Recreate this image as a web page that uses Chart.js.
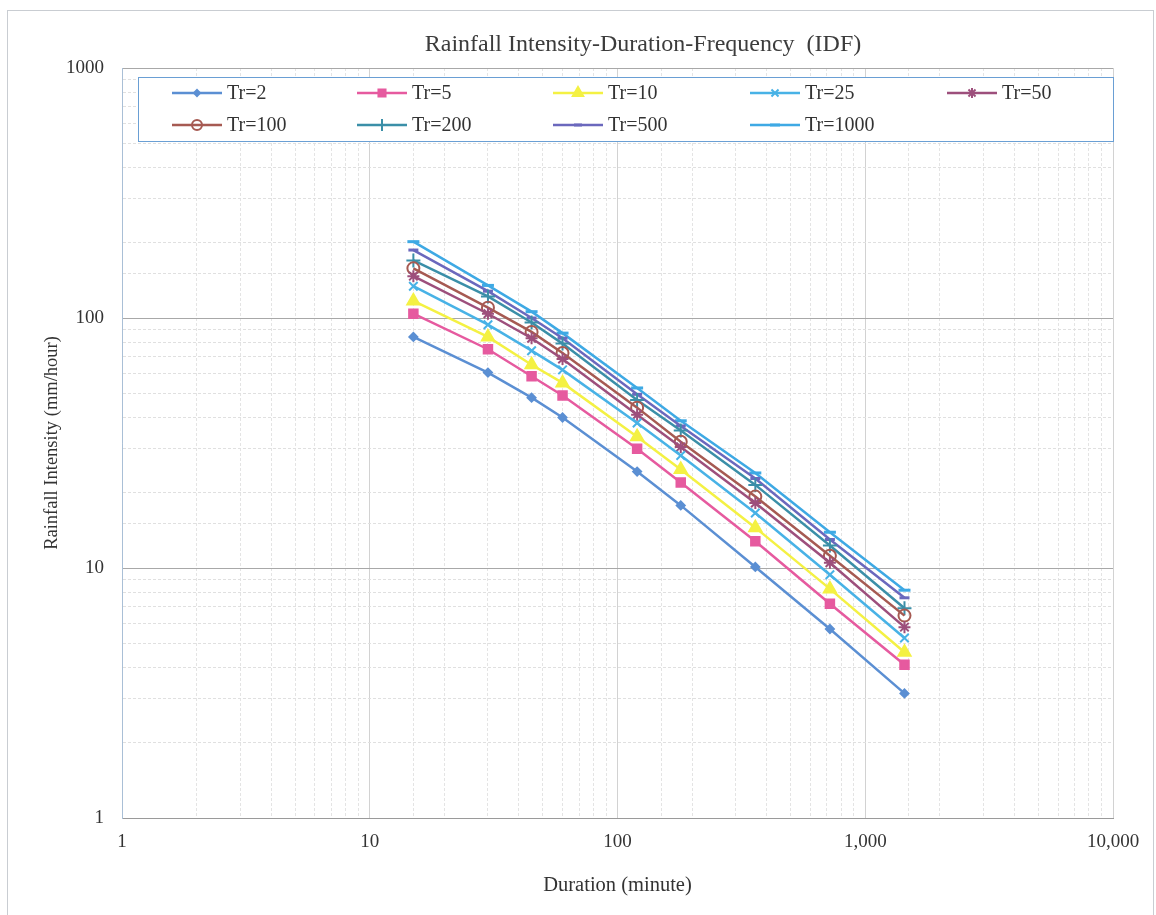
<!DOCTYPE html>
<html lang="en">
<head>
  <meta charset="UTF-8" />
  <title>Rainfall Intensity-Duration-Frequency (IDF)</title>
  <script src="https://cdn.jsdelivr.net/npm/chart.js"></script>
  <style>
    body {
      margin: 0;
      background-color: #fff;
    }
    .chart-wrap {
      width: 1156px;
      height: 915px;
    }
  </style>
</head>
<body>
  <div class="chart-wrap">
    <canvas id="idfChart"></canvas>
  </div>

  <script>
    // durations (minute) and intensities (mm/hour)
    const durations = [15, 30, 45, 60, 120, 180, 360, 720, 1440];
    const tr2    = [84, 60.5, 48, 40, 24.3, 17.8, 10.1, 5.7, 3.15];
    const tr5    = [104, 75, 58.5, 49, 30, 22, 12.8, 7.2, 4.1];
    const tr10   = [117, 84, 65, 55, 33.5, 24.8, 14.5, 8.25, 4.6];
    const tr25   = [134, 94, 74, 62, 38, 28.2, 16.6, 9.4, 5.25];
    const tr50   = [147, 104, 83, 68.5, 41, 30.5, 18.2, 10.5, 5.8];
    const tr100  = [158, 110, 88, 72.5, 43.8, 32, 19.3, 11.2, 6.45];
    const tr200  = [170, 122, 96, 79, 47, 35.5, 21.5, 12.3, 6.9];
    const tr500  = [187, 128, 100, 83, 49.5, 37, 22.8, 13, 7.6];
    const tr1000 = [202, 135, 106, 87, 52.5, 38.8, 24, 13.9, 8.15];

    const seriesLabels = ['Tr=2', 'Tr=5', 'Tr=10', 'Tr=25', 'Tr=50', 'Tr=100', 'Tr=200', 'Tr=500', 'Tr=1000'];
    const seriesValues = [tr2, tr5, tr10, tr25, tr50, tr100, tr200, tr500, tr1000];

    // tick labels by power of ten
    const xTickLabels = ['1', '10', '100', '1,000', '10,000'];
    const yTickLabels = ['1', '10', '100', '1000'];

    // marker look per series
    const seriesStyles = [
      { color: '#5b8fd3', point: 'rectRot',  radius: 4, fill: '#5b8fd3' },
      { color: '#e65a9f', point: 'rect',     radius: 6, fill: '#e65a9f' },
      { color: '#f4f143', point: 'triangle', radius: 7, fill: '#f4f143' },
      { color: '#48b2e6', point: 'crossRot', radius: 6, fill: '#48b2e6' },
      { color: '#9d4f7c', point: 'star',     radius: 6, fill: '#9d4f7c' },
      { color: '#a65a52', point: 'circle',   radius: 6, fill: 'rgba(255,255,255,0)' },
      { color: '#3b8fa8', point: 'cross',    radius: 7, fill: '#3b8fa8' },
      { color: '#6b68bd', point: 'line',     radius: 5, fill: '#6b68bd' },
      { color: '#3ea9e4', point: 'line',     radius: 6, fill: '#3ea9e4' }
    ];

    const serif = "'Liberation Serif', 'Times New Roman', serif";

    const datasets = seriesLabels.map((label, i) => ({
      label: label,
      data: durations.map((d, j) => ({ x: d, y: seriesValues[i][j] })),
      borderColor: seriesStyles[i].color,
      backgroundColor: seriesStyles[i].fill,
      borderWidth: 2.5,
      pointStyle: seriesStyles[i].point,
      pointRadius: seriesStyles[i].radius,
      pointBackgroundColor: seriesStyles[i].fill,
      pointBorderColor: seriesStyles[i].color,
      pointBorderWidth: seriesStyles[i].point === 'line' ? 3 : 2,
      tension: 0
    }));

    const isDecade = v => Math.abs(Math.log10(v) - Math.round(Math.log10(v))) < 1e-9;

    // white page with a thin frame, plus the chart title
    const frameAndTitle = {
      id: 'frameAndTitle',
      beforeDraw(chart) {
        const ctx = chart.ctx;
        ctx.save();
        ctx.fillStyle = '#fff';
        ctx.fillRect(0, 0, chart.width, chart.height);
        ctx.strokeStyle = '#c9cdd2';
        ctx.lineWidth = 1;
        ctx.strokeRect(7.5, 10.5, 1146, 930);
        ctx.restore();
      },
      afterDraw(chart) {
        const ctx = chart.ctx;
        ctx.save();
        ctx.fillStyle = '#3c3c3c';
        ctx.font = '24px ' + serif;
        ctx.textAlign = 'center';
        ctx.textBaseline = 'middle';
        ctx.fillText('Rainfall Intensity-Duration-Frequency  (IDF)', 643, 45);
        ctx.restore();
      }
    };

    // legend drawn inside the plot, 5 columns x 2 rows in a bordered box
    const boxLegend = {
      id: 'boxLegend',
      afterDraw(chart) {
        const ctx = chart.ctx;
        const colX = [172, 357, 553, 750, 947];
        ctx.save();
        ctx.fillStyle = '#fff';
        ctx.fillRect(138, 77, 975, 64);
        ctx.strokeStyle = '#6a9fd4';
        ctx.lineWidth = 1;
        ctx.strokeRect(138.5, 77.5, 975, 64);
        chart.data.datasets.forEach((ds, i) => {
          const x0 = colX[i % 5];
          const y = 93 + Math.floor(i / 5) * 32;
          ctx.strokeStyle = ds.borderColor;
          ctx.lineWidth = 2.5;
          ctx.beginPath();
          ctx.moveTo(x0, y);
          ctx.lineTo(x0 + 50, y);
          ctx.stroke();
          ctx.fillStyle = ds.pointBackgroundColor;
          ctx.strokeStyle = ds.pointBorderColor;
          ctx.lineWidth = ds.pointBorderWidth;
          Chart.helpers.drawPoint(ctx, {
            pointStyle: ds.pointStyle,
            radius: Math.max(3, ds.pointRadius - 1),
            borderWidth: ds.pointBorderWidth,
            rotation: 0
          }, x0 + 25, y);
          ctx.fillStyle = '#333';
          ctx.font = '20px ' + serif;
          ctx.textAlign = 'left';
          ctx.textBaseline = 'middle';
          ctx.fillText(ds.label, x0 + 55, y + 1);
        });
        ctx.restore();
      }
    };

    new Chart(document.getElementById('idfChart'), {
      type: 'line',
      data: { datasets: datasets },
      options: {
        responsive: true,
        maintainAspectRatio: false,
        animation: false,
        layout: {
          padding: { top: 68, right: 43, bottom: 0, left: 0 }
        },
        scales: {
          x: {
            type: 'logarithmic',
            min: 1,
            max: 10000,
            afterFit(scale) { scale.height = 97; },
            grid: {
              drawTicks: false,
              color: ctx => isDecade(ctx.tick.value) ? '#d2d2d2' : '#e4e4e4',
              lineWidth: 1
            },
            border: {
              color: '#9a9a9a',
              dash: ctx => isDecade(ctx.tick.value) ? [] : [3, 2]
            },
            ticks: {
              autoSkip: false,
              maxRotation: 0,
              padding: 13,
              color: '#333',
              font: { family: serif, size: 19 },
              callback: value => isDecade(value) ? xTickLabels[Math.round(Math.log10(value))] : ''
            },
            title: {
              display: true,
              text: 'Duration (minute)',
              color: '#333',
              font: { family: serif, size: 20.5 },
              padding: { top: 0, bottom: 17 }
            }
          },
          y: {
            type: 'logarithmic',
            min: 1,
            max: 1000,
            afterFit(scale) { scale.width = 122; },
            grid: {
              drawTicks: false,
              color: ctx => isDecade(ctx.tick.value) ? '#a8a8a8' : '#e0e0e0',
              lineWidth: 1
            },
            border: {
              color: '#a9bfd6',
              dash: ctx => isDecade(ctx.tick.value) ? [] : [3, 2]
            },
            ticks: {
              autoSkip: false,
              padding: 18,
              color: '#333',
              font: { family: serif, size: 19 },
              callback: value => isDecade(value) ? yTickLabels[Math.round(Math.log10(value))] : ''
            },
            title: {
              display: true,
              text: 'Rainfall Intensity (mm/hour)',
              color: '#333',
              font: { family: serif, size: 18.5 },
              padding: { top: 41, bottom: 0 }
            }
          }
        },
        plugins: {
          legend: { display: false },
          tooltip: { enabled: false }
        }
      },
      plugins: [frameAndTitle, boxLegend]
    });
  </script>
</body>
</html>
